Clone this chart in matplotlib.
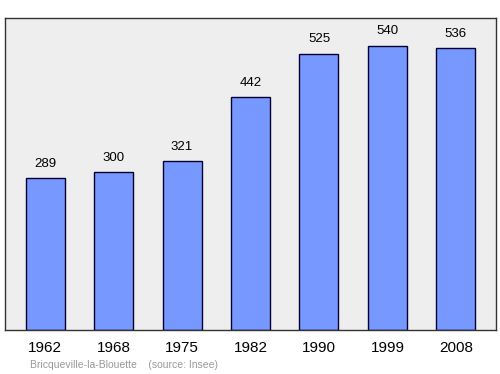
import matplotlib.pyplot as plt

# données de population
annees = ['1962', '1968', '1975', '1982', '1990', '1999', '2008']
population = [289, 300, 321, 442, 525, 540, 536]

fig = plt.figure(figsize=(5, 3.74), dpi=100)
ax = fig.add_axes([5 / 500, 1 - 330 / 374, 491 / 500, 312 / 374])
ax.set_facecolor('#eeeeee')

x = range(len(annees))
ax.bar(x, population, width=0.57, color='#7799ff', edgecolor='#000033', linewidth=1, zorder=2)

for i, v in zip(x, population):
    ax.text(i, v + 16, str(v), ha='center', va='bottom', fontsize=9.5,
            family='Liberation Sans')

ax.set_xlim(-0.585, 6.585)
ax.set_ylim(0, 593)
ax.set_yticks([])
ax.set_xticks(list(x))
ax.set_xticklabels(annees, fontsize=11, family='Liberation Sans')
ax.tick_params(axis='x', length=0, pad=8)
for s in ax.spines.values():
    s.set_color('#333333')
    s.set_linewidth(1)

fig.text(30 / 500, 1 - 365 / 374, 'Bricqueville-la-Blouette    (source: Insee)',
         fontsize=7.5, color='#999999', va='center', family='Liberation Sans')

plt.savefig('out.png')
